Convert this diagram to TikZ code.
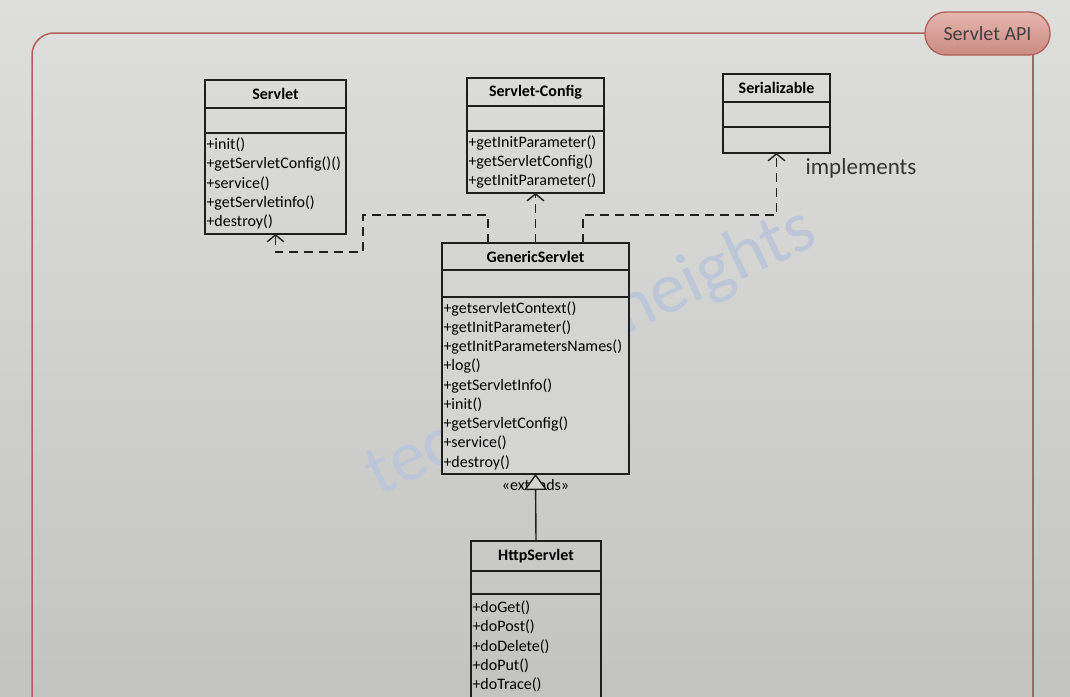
\documentclass[tikz,border=0pt]{standalone}
\usepackage{fontspec}
\setmainfont{Carlito}
\usetikzlibrary{positioning,arrows.meta}
\definecolor{bgtop}{HTML}{DEDEDC}
\definecolor{bgbot}{HTML}{C3C4C1}
\definecolor{genfill}{HTML}{D4D5D2}
\definecolor{boxcol}{HTML}{1E1E1E}
\definecolor{framecol}{HTML}{B0605A}
\definecolor{pilltop}{HTML}{E4B6AE}
\definecolor{pillbot}{HTML}{CA8A80}
\definecolor{wmcol}{HTML}{BCC6D8}

\begin{document}
\begin{tikzpicture}[x=1pt,y=-1pt,
    box/.style={draw=boxcol,line width=1.3pt,outer sep=0pt,inner sep=0pt},
    head/.style={box,font=\bfseries\fontsize{16}{19.2}\selectfont,minimum height=28pt},
    blank/.style={box,minimum height=25pt},
    meth/.style={box,align=left,inner xsep=1.5pt,font=\fontsize{16}{19.25}\selectfont},
    impl/.style={draw=boxcol,line width=1.4pt,dash pattern=on 9pt off 6pt,
                 -{Straight Barb[length=7pt,width=17pt]}},
    ext/.style={draw=boxcol,line width=1.4pt,-{Triangle[length=16pt,width=23pt,fill=genfill]}},
    frame/.style={draw=framecol,line width=1.5pt,rounded corners=22pt},
    wmark/.style={text=wmcol,font=\fontsize{72}{72}\selectfont,rotate=25,inner sep=0pt}]

\useasboundingbox (0,0) rectangle (1070,696);
\shade[top color=bgtop,bottom color=bgbot] (0,0) rectangle (1070,696);

\node[wmark] (WM1) at (410,457) {tec};
\node[wmark] (WM2) at (715,272) {heights};

\draw[frame] (960,33) -- (32,33) -- (32,720);
\draw[frame] (1033,33) -- (1033,720);
\node[draw=framecol,line width=1.3pt,rounded corners=21pt,minimum width=125pt,minimum height=43pt,
      top color=pilltop,bottom color=pillbot,text=black!75,
      font=\fontsize{20}{24}\selectfont] (API) at (987.5,33.5) {Servlet API};

\node[head,minimum width=141pt,anchor=north west] (SRV) at (205,80) {Servlet};
\node[blank,minimum width=141pt,below=0pt of SRV] (SRVa) {};
\node[meth,text width=138pt,minimum height=101pt,below=0pt of SRVa] (SRVm)
  {+init()\\+getServletConfig()()\\+service()\\+getServletinfo()\\+destroy()};

\node[head,minimum width=137pt,anchor=north west] (CFG) at (467,78) {Servlet-Config};
\node[blank,minimum width=137pt,below=0pt of CFG] (CFGa) {};
\node[meth,text width=134pt,minimum height=62pt,below=0pt of CFGa] (CFGm)
  {+getInitParameter()\\+getServletConfig()\\+getInitParameter()};

\node[head,minimum width=107pt,anchor=north west] (SER) at (723,74) {Serializable};
\node[blank,minimum width=107pt,below=0pt of SER] (SERa) {};
\node[blank,minimum width=107pt,minimum height=26pt,below=0pt of SERa] (SERm) {};
\node[text=black!80,font=\fontsize{23}{26}\selectfont] (IMPL) at (861,168) {implements};

\node[head,fill=genfill,minimum width=187pt,minimum height=27pt,anchor=north west] (GEN) at (442,243) {GenericServlet};
\node[blank,fill=genfill,minimum width=187pt,minimum height=27pt,below=0pt of GEN] (GENa) {};
\node[meth,fill=genfill,text width=184pt,minimum height=177pt,below=0pt of GENa] (GENm)
  {+getservletContext()\\+getInitParameter()\\+getInitParametersNames()\\+log()\\+getServletInfo()\\
   +init()\\+getServletConfig()\\+service()\\+destroy()};

\node[head,minimum width=130pt,minimum height=30pt,anchor=north west] (HTTP) at (471,541) {HttpServlet};
\node[blank,minimum width=130pt,minimum height=23pt,below=0pt of HTTP] (HTTPa) {};
\node[meth,text width=127pt,minimum height=122pt,below=0pt of HTTPa] (HTTPm)
  {+doGet()\\+doPost()\\+doDelete()\\+doPut()\\+doTrace()\\\mbox{}};

\draw[impl] ([xshift=-47.5pt]GEN.north) |- (363,215) |- (SRVm.south |- 0,252) -- (SRVm.south);
\draw[impl] (GEN.north) -- (CFGm.south);
\draw[impl] ([xshift=47.5pt]GEN.north) |- (SERm.south |- 0,215) -- (SERm.south);

\node[inner sep=0pt,font=\fontsize{16}{19}\selectfont,below=5pt of GENm.south] (EXT) {«extends»};
\draw[ext] (HTTP.north) -- (GENm.south);
\end{tikzpicture}
\end{document}
